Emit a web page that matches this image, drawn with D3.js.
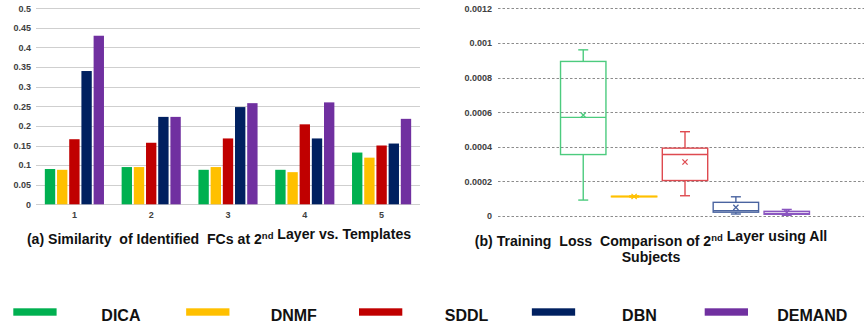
<!DOCTYPE html>
<html>
<head>
<meta charset="utf-8">
<script src="https://cdn.jsdelivr.net/npm/d3@7"></script>
<style>
  html, body { margin: 0; padding: 0; background: #fff; }
  svg { display: block; font-family: "Liberation Sans", Arial, sans-serif; }
</style>
</head>
<body>
<svg id="chart" width="864" height="326"></svg>
<script>
// ---- data ----
const methods = ["DICA", "DNMF", "SDDL", "DBN", "DEMAND"];
const methodColors = ["#00b050", "#ffc000", "#c00000", "#002060", "#7030a0"];
const boxColors = ["#4ccb7e", "#ffc000", "#de4a50", "#4a64a0", "#8a55c0"];

// (a) similarity per template index
const templateIds = ["1", "2", "3", "4", "5"];
const simDICA   = [0.090, 0.095, 0.088, 0.088, 0.132];
const simDNMF   = [0.088, 0.095, 0.095, 0.082, 0.119];
const simSDDL   = [0.166, 0.157, 0.168, 0.204, 0.150];
const simDBN    = [0.340, 0.223, 0.248, 0.168, 0.155];
const simDEMAND = [0.430, 0.223, 0.258, 0.260, 0.218];
const simTicks  = [0, 0.05, 0.1, 0.15, 0.2, 0.25, 0.3, 0.35, 0.4, 0.45, 0.5];

// (b) training loss distribution per method
const lossMin    = [0.000092, 0.000110, 0.000117, 0.0000115, 0.000004];
const lossQ1     = [0.000355, 0.000112, 0.000205, 0.000022, 0.000010];
const lossMedian = [0.000570, 0.000113, 0.000355, 0.000030, 0.000015];
const lossQ3     = [0.000893, 0.000114, 0.000392, 0.000079, 0.000027];
const lossMax    = [0.000960, 0.000116, 0.000487, 0.000111, 0.000038];
const lossMean   = [0.000583, 0.000113, 0.000312, 0.000050, 0.000021];
const lossTicks  = [0, 0.0002, 0.0004, 0.0006, 0.0008, 0.001, 0.0012];
const lossTickLabels = ["0", "0.0002", "0.0004", "0.0006", "0.0008", "0.001", "0.0012"];

const simSeries = [simDICA, simDNMF, simSDDL, simDBN, simDEMAND];

const svg = d3.select("#chart");

// ---------- panel (a): grouped bars ----------
const xa = d3.scaleBand().domain(templateIds).range([36, 420]).paddingInner(0.23).paddingOuter(0.115);
const xaInner = d3.scaleBand().domain(methods).range([0, xa.bandwidth()]).paddingInner(0.15).paddingOuter(0);
const ya = d3.scaleLinear().domain([0, 0.5]).range([204.3, 8.3]);

const gA = svg.append("g");
gA.append("g").selectAll("line").data(simTicks).join("line")
  .attr("x1", 36).attr("x2", 420)
  .attr("y1", d => Math.round(ya(d)) + 0.5).attr("y2", d => Math.round(ya(d)) + 0.5)
  .attr("stroke", "#cfcfcf").attr("stroke-width", 1);

const yAxisA = d3.axisLeft(ya).tickValues(simTicks).tickSize(0).tickPadding(0).tickFormat(d3.format("~g"));
gA.append("g").attr("transform", "translate(31,0)").call(yAxisA)
  .call(g => g.select(".domain").remove())
  .call(g => g.selectAll("text").attr("fill", "#404040").attr("font-size", 9).attr("font-weight", "bold")
    .attr("font-family", "Liberation Sans, Arial, sans-serif"));

const xAxisA = d3.axisBottom(xa).tickSize(0).tickPadding(0);
gA.append("g").attr("transform", "translate(0,212)").call(xAxisA)
  .call(g => g.select(".domain").remove())
  .call(g => g.selectAll("text").attr("fill", "#404040").attr("font-size", 9).attr("font-weight", "bold")
    .attr("font-family", "Liberation Sans, Arial, sans-serif"));

const groups = gA.append("g").selectAll("g").data(templateIds).join("g")
  .attr("transform", d => `translate(${xa(d)},0)`);
groups.selectAll("rect").data((d, i) => methods.map((m, j) => ({ m, j, v: simSeries[j][i] })))
  .join("rect")
  .attr("x", d => xaInner(d.m))
  .attr("width", xaInner.bandwidth())
  .attr("y", d => ya(d.v))
  .attr("height", d => ya(0) - ya(d.v))
  .attr("fill", d => methodColors[d.j]);

// ---------- panel (b): box plots ----------
const xb = d3.scaleBand().domain(["all"]).range([498, 872]).paddingOuter(0.247);
const xbInner = d3.scaleBand().domain(methods).range([0, xb.bandwidth()]).paddingInner(0.08).paddingOuter(0);
const yb = d3.scaleLinear().domain([0, 0.0012]).range([216, 8.3]);

const gB = svg.append("g");
gB.append("g").selectAll("line").data(lossTicks).join("line")
  .attr("x1", 498).attr("x2", 864)
  .attr("y1", d => Math.round(yb(d)) + 0.5).attr("y2", d => Math.round(yb(d)) + 0.5)
  .attr("stroke", "#8c8c8c").attr("stroke-width", 1).attr("stroke-dasharray", "2.5,2");

const yAxisB = d3.axisLeft(yb).tickValues(lossTicks).tickSize(0).tickPadding(0)
  .tickFormat((d, i) => lossTickLabels[i]);
gB.append("g").attr("transform", "translate(492,0)").call(yAxisB)
  .call(g => g.select(".domain").remove())
  .call(g => g.selectAll("text").attr("fill", "#404040").attr("font-size", 9).attr("font-weight", "bold")
    .attr("font-family", "Liberation Sans, Arial, sans-serif"));

const boxes = gB.append("g").selectAll("g").data(methods).join("g")
  .attr("transform", d => `translate(${xb("all") + xbInner(d)},0)`)
  .attr("stroke", (d, i) => boxColors[i])
  .attr("fill", "none")
  .attr("stroke-width", 1.4);

const bw = xbInner.bandwidth();
const capW = 10;
boxes.each(function (m, i) {
  const g = d3.select(this);
  const cx = bw / 2;
  // whiskers
  g.append("line").attr("x1", cx).attr("x2", cx).attr("y1", yb(lossMax[i])).attr("y2", yb(lossQ3[i]));
  g.append("line").attr("x1", cx).attr("x2", cx).attr("y1", yb(lossQ1[i])).attr("y2", yb(lossMin[i]));
  g.append("line").attr("x1", cx - capW / 2).attr("x2", cx + capW / 2).attr("y1", yb(lossMax[i])).attr("y2", yb(lossMax[i]));
  g.append("line").attr("x1", cx - capW / 2).attr("x2", cx + capW / 2).attr("y1", yb(lossMin[i])).attr("y2", yb(lossMin[i]));
  // box
  g.append("rect").attr("x", 0.7).attr("width", bw - 1.4)
    .attr("y", yb(lossQ3[i])).attr("height", Math.max(yb(lossQ1[i]) - yb(lossQ3[i]), 0.5));
  // median
  g.append("line").attr("x1", 0.7).attr("x2", bw - 0.7).attr("y1", yb(lossMedian[i])).attr("y2", yb(lossMedian[i]));
  // mean marker
  const my = yb(lossMean[i]), s = 2.6;
  g.append("path").attr("d", `M${cx - s},${my - s}L${cx + s},${my + s}M${cx - s},${my + s}L${cx + s},${my - s}`)
    .attr("stroke-width", 1.3);
});

// ---------- titles ----------
function titleLine(x, y, parts) {
  const t = svg.append("text").attr("x", x).attr("y", y).attr("text-anchor", "middle")
    .attr("font-size", 14.1).attr("font-weight", "bold").attr("fill", "#111");
  parts.forEach(p => {
    if (p.sup) {
      t.append("tspan").attr("font-size", 9.5).attr("dy", -5).text(p.t);
      t.append("tspan").attr("dy", 5).text("");
    } else {
      t.append("tspan").text(p.t);
    }
  });
  return t;
}
titleLine(219, 244, [{ t: "(a) Similarity\u00a0 of Identified\u00a0 FCs at 2" }, { t: "nd", sup: true }, { t: " Layer vs. Templates" }]);
titleLine(651, 245.5, [{ t: "(b) Training\u00a0 Loss\u00a0 Comparison of 2" }, { t: "nd", sup: true }, { t: " Layer using All" }]);
titleLine(651, 262, [{ t: "Subjects" }]);

// ---------- legend ----------
const legendX = d3.scalePoint().domain(methods).range([13.3, 704.7]);
const leg = svg.append("g").selectAll("g").data(methods).join("g")
  .attr("transform", d => `translate(${legendX(d)},0)`);
leg.append("rect").attr("x", 0).attr("y", 308.3).attr("width", 43.3).attr("height", 7.4)
  .attr("fill", (d, i) => methodColors[i]);
leg.append("text").attr("x", 107.6).attr("y", 320.5).attr("text-anchor", "middle")
  .attr("font-size", 16).attr("font-weight", "bold").attr("fill", "#111").text(d => d);
</script>
</body>
</html>
